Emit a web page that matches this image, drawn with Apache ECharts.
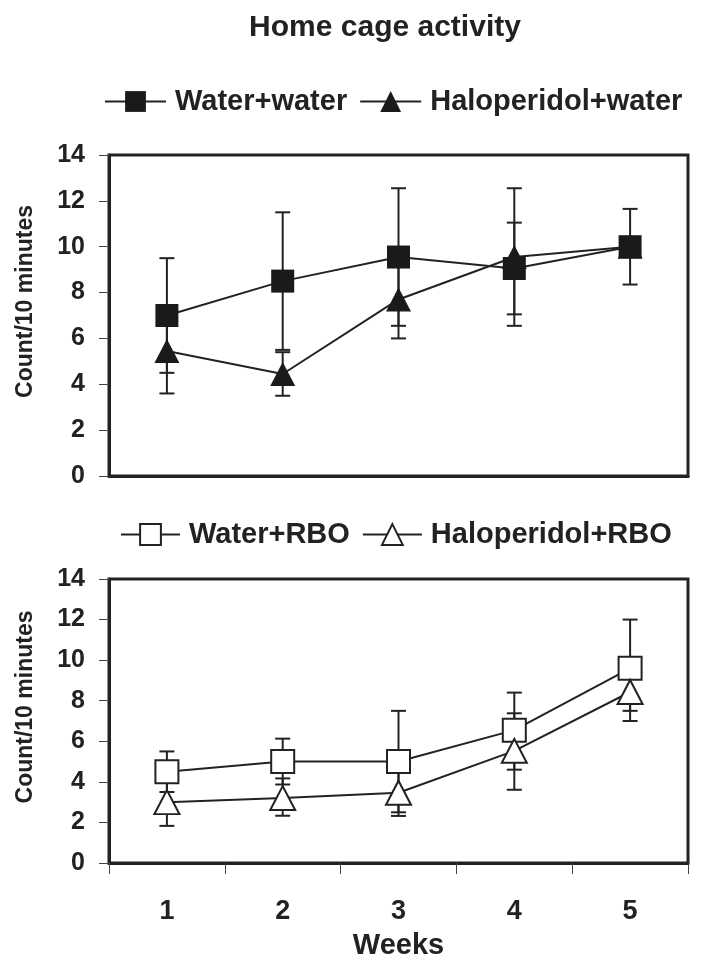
<!DOCTYPE html>
<html>
<head>
<meta charset="utf-8">
<script src="https://cdn.jsdelivr.net/npm/echarts@6/dist/echarts.min.js"></script>
<style>
html,body{margin:0;padding:0;background:#fff;}
#chart{width:708px;height:969px;}
</style>
</head>
<body>
<div id="chart"></div>
<script>
// ---- data ----
const weeks = ['1', '2', '3', '4', '5'];
const yTicks = [0, 2, 4, 6, 8, 10, 12, 14];

// Top panel
const waterWaterMean = [7.0, 8.5, 9.55, 9.05, 10.0];
const waterWaterErr = [2.5, 3.0, 3.0, 2.0, 1.65];
const haloWaterMean = [5.45, 4.45, 7.7, 9.55, 10.0];
const haloWaterErr = [1.85, 0.95, 1.7, 3.0, 0.3];

// Bottom panel
const waterRboMean = [4.5, 5.0, 5.0, 6.55, 9.6];
const waterRboErrUp = [1.0, 1.13, 2.5, 1.85, 2.4];
const waterRboErrDown = [1.0, 1.13, 2.5, 1.95, 2.1];
const haloRboMean = [3.0, 3.2, 3.46, 5.53, 8.43];
const haloRboErrUp = [1.2, 0.97, 1.2, 1.85, 0.9];
const haloRboErrDown = [1.17, 0.87, 1.14, 1.92, 1.43];

// ---- chart ----
const FONT = "'Liberation Sans', Arial, sans-serif";
const INK = '#222';

function errData(mean, up, down) {
  return mean.map((m, i) => [i, m - down[i], m + up[i]]);
}

function errSeries(name, mean, up, down, axisIndex) {
  return {
    name: name + ' err',
    type: 'custom',
    xAxisIndex: axisIndex,
    yAxisIndex: axisIndex,
    z: 1,
    silent: true,
    data: errData(mean, up, down),
    renderItem: function (params, api) {
      const x = api.value(0);
      const lo = api.coord([x, api.value(1)]);
      const hi = api.coord([x, api.value(2)]);
      const hw = 7.5;
      const st = { stroke: INK, lineWidth: 2 };
      return {
        type: 'group',
        children: [
          { type: 'line', shape: { x1: hi[0], y1: hi[1], x2: lo[0], y2: lo[1] }, style: st },
          { type: 'line', shape: { x1: hi[0] - hw, y1: hi[1], x2: hi[0] + hw, y2: hi[1] }, style: st },
          { type: 'line', shape: { x1: lo[0] - hw, y1: lo[1], x2: lo[0] + hw, y2: lo[1] }, style: st }
        ]
      };
    }
  };
}

function lineSeries(name, mean, axisIndex, symbol, size, fill) {
  return {
    name: name,
    type: 'line',
    xAxisIndex: axisIndex,
    yAxisIndex: axisIndex,
    z: 3,
    data: mean,
    symbol: symbol,
    symbolSize: size,
    showAllSymbol: true,
    lineStyle: { color: INK, width: 2 },
    itemStyle: { color: fill, borderColor: INK, borderWidth: fill === '#fff' ? 2 : 0 },
    emphasis: { disabled: true }
  };
}

const yAxisCommon = {
  type: 'value',
  min: 0,
  max: 14,
  interval: 2,
  name: 'Count/10 minutes',
  nameLocation: 'middle',
  nameGap: 72,
  nameRotate: 90,
  nameTextStyle: { fontFamily: FONT, fontWeight: 'bold', fontSize: 23, color: INK, padding: [0, 0, 0, 28] },
  axisLine: { show: true, lineStyle: { color: INK, width: 3 } },
  axisTick: { show: true, inside: false, length: 10, lineStyle: { color: '#444', width: 1 } },
  axisLabel: {
    margin: 24,
    fontFamily: FONT, fontWeight: 'bold', fontSize: 25, color: INK,
    formatter: function (v) { return yTicks.indexOf(v) >= 0 ? String(v) : ''; }
  },
  splitLine: { show: false }
};

const legendText = { fontFamily: FONT, fontWeight: 'bold', fontSize: 29, color: INK, padding: [0, 0, 0, 4] };

const option = {
  animation: false,
  backgroundColor: '#fff',
  title: {
    text: 'Home cage activity',
    left: 385,
    textAlign: 'center',
    top: 13,
    padding: 0,
    textStyle: { fontFamily: FONT, fontWeight: 'bold', fontSize: 30, color: INK }
  },
  legend: [
    {
      data: ['Water+water', 'Haloperidol+water'],
      left: 104,
      top: 87,
      padding: 0,
      itemWidth: 61,
      itemHeight: 26,
      itemGap: 12,
      selectedMode: false,
      textStyle: legendText
    },
    {
      data: ['Water+RBO', 'Haloperidol+RBO'],
      left: 120,
      top: 520,
      padding: 0,
      itemWidth: 59,
      itemHeight: 26,
      itemGap: 12,
      selectedMode: false,
      textStyle: legendText
    }
  ],
  grid: [
    { left: 109, top: 155, width: 579, height: 321, show: true, borderColor: INK, borderWidth: 3, containLabel: false },
    { left: 109, top: 579, width: 579, height: 284, show: true, borderColor: INK, borderWidth: 3, containLabel: false }
  ],
  xAxis: [
    {
      type: 'category', gridIndex: 0, data: weeks, boundaryGap: true,
      axisLine: { show: true, lineStyle: { color: INK, width: 3 } },
      axisTick: { show: false }, axisLabel: { show: false }, splitLine: { show: false }
    },
    {
      type: 'category', gridIndex: 1, data: weeks, boundaryGap: true,
      name: 'Weeks', nameLocation: 'middle', nameGap: 68,
      nameTextStyle: { fontFamily: FONT, fontWeight: 'bold', fontSize: 29, color: INK },
      axisLine: { show: true, lineStyle: { color: INK, width: 3 } },
      axisTick: { show: true, inside: false, length: 11, interval: 0, lineStyle: { color: '#444', width: 1 } },
      axisLabel: { margin: 35, fontFamily: FONT, fontWeight: 'bold', fontSize: 27, color: INK },
      splitLine: { show: false }
    }
  ],
  yAxis: [
    Object.assign({ gridIndex: 0 }, yAxisCommon),
    Object.assign({ gridIndex: 1 }, yAxisCommon)
  ],
  series: [
    errSeries('Water+water', waterWaterMean, waterWaterErr, waterWaterErr, 0),
    errSeries('Haloperidol+water', haloWaterMean, haloWaterErr, haloWaterErr, 0),
    errSeries('Water+RBO', waterRboMean, waterRboErrUp, waterRboErrDown, 1),
    errSeries('Haloperidol+RBO', haloRboMean, haloRboErrUp, haloRboErrDown, 1),
    lineSeries('Water+water', waterWaterMean, 0, 'rect', 23, '#1a1a1a'),
    lineSeries('Haloperidol+water', haloWaterMean, 0, 'triangle', [25, 24], '#1a1a1a'),
    lineSeries('Water+RBO', waterRboMean, 1, 'rect', 23, '#fff'),
    lineSeries('Haloperidol+RBO', haloRboMean, 1, 'triangle', [25, 24], '#fff')
  ]
};

const chart = echarts.init(document.getElementById('chart'), null, { renderer: 'canvas' });
chart.setOption(option);
</script>
</body>
</html>
